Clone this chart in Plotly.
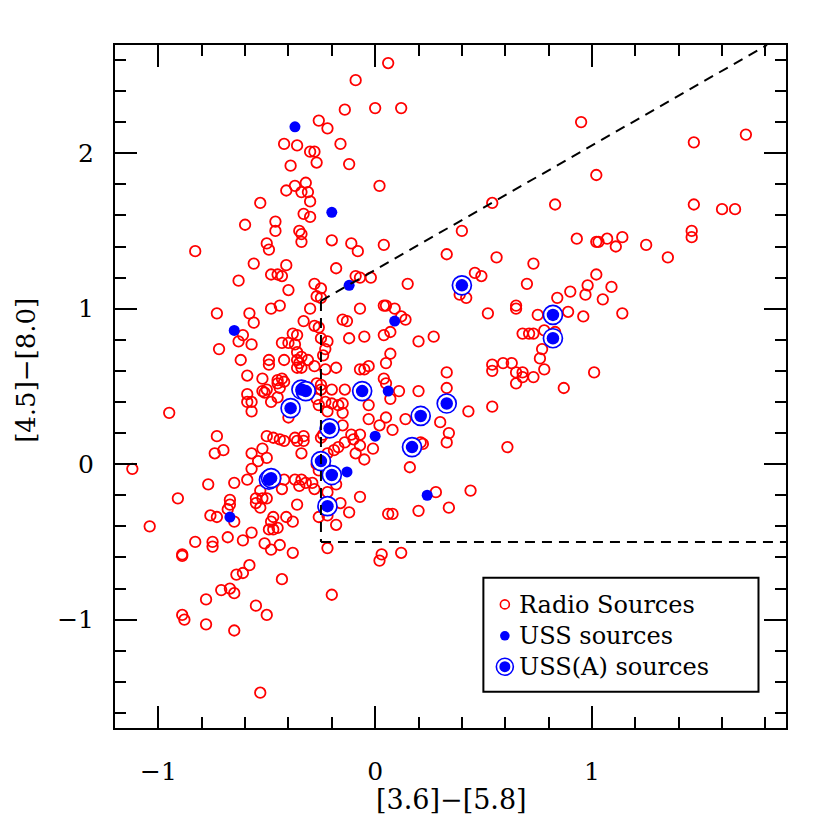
import plotly.graph_objects as go

# Radio sources (open red circles)
radio_x = [
    -0.14, -0.26, -0.22, -0.16, -0.42, -0.36, -0.30, -0.28, -0.27, -0.39,
    -0.12, -0.37, -0.32, -0.41, -0.34, -0.31, -0.30, -0.53, -0.33, -0.30,
    -0.60, -0.46, -0.46, -0.35, -0.34, -0.34, -0.20, -0.50, -0.49, -0.83,
    -0.56, -0.41, -0.18, 0.06, -0.09, 0.00, 0.12, 0.02, 0.54, 0.83,
    0.40, -0.11, -0.08, 0.04, 0.33, 0.56, 0.73, 0.95, 1.47, 1.71,
    1.02, 1.47, 1.60, 1.66, 0.93, 1.02, 1.03, 1.07, 1.11, 1.14,
    1.25, 1.46, 1.46, 1.35, 1.02, 0.90, 0.98, 0.97, 1.09, 1.05,
    0.89, 0.96, 1.14, 1.01, -0.09, -0.07, -0.02, 0.15, 0.46, 0.49,
    0.39, 0.42, 0.70, 0.84, 0.75, 0.65, 0.65, 0.52, -0.07, 0.04,
    0.05, 0.09, 0.12, 0.14, -0.15, -0.13, -0.12, -0.05, 0.04, 0.07,
    0.20, 0.27, 0.07, 0.05, -0.07, -0.05, -0.03, 0.33, 0.68, 0.71,
    0.73, 0.78, 0.83, 0.77, 0.76, 0.78, 0.73, 0.54, 0.54, 0.59,
    0.63, 0.65, 0.68, 0.68, 0.65, 0.87, 0.33, 0.43, 0.54, 0.05,
    0.04, 0.11, 0.07, 0.20, -0.14, -0.15, -0.03, -0.03, 0.05, 0.02,
    0.08, 0.14, -0.11, -0.07, -0.10, -0.14, -0.07, -0.01, -0.09, -0.05,
    0.30, 0.34, 0.33, 0.21, 0.22, 0.61, 0.16, 0.28, 0.44, -0.07,
    -0.12, 0.06, 0.08, 0.20, 0.34, 0.03, 0.02, 0.12, -0.48, -0.45,
    -0.43, -0.63, -0.40, -0.28, -0.25, -0.27, -0.25, -0.73, -0.58, -0.48,
    -0.44, -0.30, -0.56, -0.33, -0.28, -0.26, -0.61, -0.63, -0.57, -0.72,
    -0.38, -0.36, -0.43, -0.40, -0.37, -0.25, -0.22, -0.23, -0.24, -0.36,
    -0.34, -0.42, -0.36, -0.31, -0.35, -0.62, -0.49, -0.49, -0.36, -0.34,
    -0.28, -0.23, -0.18, -0.59, -0.52, -0.45, -0.43, -0.45, -0.42, -0.52,
    -0.50, -0.51, -0.44, -0.45, -0.27, -0.25, -0.25, -0.20, -0.40, -0.59,
    -0.59, -0.57, -0.57, -0.48, -0.27, -0.26, -0.23, -0.20, -0.22, -0.17,
    -0.15, -0.95, -0.25, -0.24, -0.15, -0.73, -0.74, -0.70, -0.50, -0.47,
    -0.44, -0.42, -0.37, -0.36, -0.33, -0.33, -0.57, -0.52, -0.54, -0.50,
    -0.57, -0.34, -0.22, -0.19, -0.17, -0.27, -0.26, -0.23, -1.12, -0.77,
    -0.65, -0.59, -0.48, -0.46, -0.42, -0.37, -0.34, -0.32, -0.35, -0.28,
    -0.29, -0.22, -0.18, -0.53, -0.43, -0.91, -0.67, -1.04, -0.76, -0.73,
    -0.67, -0.68, -0.65, -0.55, -0.52, -0.50, -0.55, -0.53, -0.36, -0.16,
    -0.26, -0.22, -0.18, -0.47, -0.48, -0.45, -0.47, -0.49, -0.41, -0.38,
    -0.57, -0.68, -0.61, -0.83, -0.75, -0.75, -0.51, -0.48, -0.44, -0.38,
    -0.22, -0.89, -0.89, -0.58, -0.61, -0.64, -0.43, -0.71, -0.67, -0.65,
    -0.78, -0.20, -0.55, -0.50, -0.89, -0.88, -0.78, -0.65, -0.53,
]
radio_y = [
    2.28, 2.21, 2.16, 2.06, 2.06, 2.05, 2.01, 2.01, 1.94, 1.92,
    1.93, 1.79, 1.81, 1.76, 1.75, 1.75, 1.69, 1.68, 1.61, 1.59,
    1.54, 1.56, 1.50, 1.50, 1.48, 1.43, 1.44, 1.42, 1.38, 1.37,
    1.29, 1.28, 1.26, 2.58, 2.47, 2.29, 2.29, 1.79, 1.68, 1.67,
    1.50, 1.42, 1.37, 1.41, 1.35, 1.33, 1.29, 2.20, 2.07, 2.12,
    1.86, 1.67, 1.64, 1.64, 1.45, 1.43, 1.43, 1.45, 1.40, 1.46,
    1.41, 1.50, 1.46, 1.33, 1.22, 1.11, 1.15, 1.09, 1.14, 1.06,
    0.98, 0.95, 0.97, 0.59, 1.21, 1.20, 1.20, 1.16, 1.23, 1.21,
    1.09, 1.07, 1.16, 1.07, 0.96, 1.02, 1.00, 0.97, 1.00, 1.02,
    1.02, 1.00, 0.95, 0.93, 0.93, 0.92, 0.81, 0.82, 0.83, 0.85,
    0.79, 0.82, 0.71, 0.65, 0.61, 0.61, 0.63, 0.59, 0.84, 0.84,
    0.84, 0.86, 0.85, 0.74, 0.68, 0.61, 0.56, 0.64, 0.60, 0.65,
    0.65, 0.59, 0.59, 0.56, 0.52, 0.49, 0.49, 0.34, 0.37, 0.52,
    0.55, 0.47, 0.42, 0.47, 0.48, 0.39, 0.38, 0.29, 0.30, 0.25,
    0.22, 0.29, 0.19, 0.19, 0.16, 0.14, 0.12, 0.10, 0.07, 0.03,
    0.27, 0.20, 0.14, 0.14, 0.13, 0.11, -0.02, -0.18, -0.17, -0.21,
    -0.31, -0.32, -0.32, -0.30, -0.28, -0.58, -0.62, -0.57, 1.22, 1.22,
    1.21, 1.18, 1.12, 1.16, 1.13, 1.08, 1.07, 0.97, 0.97, 1.00,
    1.02, 1.00, 0.91, 0.92, 0.89, 0.88, 0.83, 0.79, 0.77, 0.74,
    0.84, 0.83, 0.78, 0.78, 0.77, 0.81, 0.79, 0.74, 0.70, 0.72,
    0.69, 0.67, 0.67, 0.67, 0.65, 0.67, 0.67, 0.64, 0.62, 0.62,
    0.63, 0.61, 0.62, 0.57, 0.55, 0.54, 0.55, 0.52, 0.53, 0.47,
    0.48, 0.46, 0.49, 0.43, 0.52, 0.51, 0.48, 0.48, 0.30, 0.45,
    0.40, 0.40, 0.34, 0.40, 0.42, 0.38, 0.40, 0.39, 0.34, 0.38,
    0.33, 0.33, 0.17, 0.19, 0.25, 0.18, 0.07, 0.09, 0.18, 0.17,
    0.16, 0.15, 0.17, 0.15, 0.18, 0.15, 0.07, 0.10, 0.02, 0.04,
    -0.03, 0.07, 0.07, 0.09, 0.11, 0.00, -0.04, -0.02, -0.03, -0.13,
    -0.12, -0.10, -0.08, -0.09, -0.10, -0.10, -0.10, -0.12, -0.14, -0.16,
    -0.12, -0.18, -0.13, -0.17, -0.16, -0.22, -0.23, -0.40, -0.33, -0.34,
    -0.26, -0.29, -0.37, -0.22, -0.22, -0.22, -0.25, -0.28, -0.26, -0.25,
    -0.34, -0.33, -0.39, -0.34, -0.37, -0.41, -0.42, -0.42, -0.34, -0.37,
    -0.44, -0.47, -0.49, -0.50, -0.50, -0.53, -0.51, -0.55, -0.52, -0.57,
    -0.54, -0.58, -0.59, -0.65, -0.70, -0.71, -0.74, -0.81, -0.80, -0.83,
    -0.87, -0.84, -0.91, -0.97, -0.97, -1.00, -1.03, -1.07, -1.47,
]

# USS sources (filled blue)
uss_x = [-0.37, -0.20, -0.12, 0.09, -0.65, 0.06, 0.00, -0.13, 0.24, -0.67]
uss_y = [2.17, 1.62, 1.15, 0.92, 0.86, 0.47, 0.18, -0.05, -0.20, -0.34]

# USS(A) sources (filled blue with ring)
ussa_x = [0.40, 0.82, 0.82, -0.34, -0.32, -0.39, -0.06, 0.33,
          0.21, 0.17, -0.21, -0.25, -0.20, -0.49, -0.48, -0.22]
ussa_y = [1.15, 0.96, 0.81, 0.48, 0.47, 0.36, 0.47, 0.39,
          0.31, 0.11, 0.23, 0.02, -0.07, -0.10, -0.09, -0.27]

# selection wedge
x_cut = -0.25
y_cut = -0.5
wedge_slope = 0.8
wedge_icpt = 1.25

X_RANGE = [-1.2, 1.895]
Y_RANGE = [-1.697, 2.696]
FONT = "DejaVu Serif"

fig = go.Figure()

fig.add_trace(go.Scatter(
    x=radio_x, y=radio_y, mode="markers", name="Radio Sources",
    marker=dict(symbol="circle-open", size=10.5, color="#ff0000", line=dict(width=1.8)),
))
fig.add_trace(go.Scatter(
    x=uss_x, y=uss_y, mode="markers", name="USS sources",
    marker=dict(symbol="circle", size=11, color="#0000ff", line=dict(width=0)),
))
fig.add_trace(go.Scatter(
    x=ussa_x, y=ussa_y, mode="markers", name="ring", showlegend=False,
    marker=dict(symbol="circle", size=19, color="white", line=dict(width=1.7, color="#0000ff")),
))
fig.add_trace(go.Scatter(
    x=ussa_x, y=ussa_y, mode="markers", name="USS(A) sources",
    marker=dict(symbol="circle", size=12.5, color="#0000ff", line=dict(width=0)),
))

dash = "10px,7px"
y_top = Y_RANGE[1]
fig.add_shape(type="line", x0=x_cut, y0=wedge_slope * x_cut + wedge_icpt,
              x1=(y_top - wedge_icpt) / wedge_slope, y1=y_top,
              line=dict(color="black", width=2, dash=dash))
fig.add_shape(type="line", x0=x_cut, y0=wedge_slope * x_cut + wedge_icpt, x1=x_cut, y1=y_cut,
              line=dict(color="black", width=2, dash=dash))
fig.add_shape(type="line", x0=x_cut, y0=y_cut, x1=X_RANGE[1], y1=y_cut,
              line=dict(color="black", width=2, dash=dash))

# hand-made legend box
fig.add_shape(type="rect", xref="paper", yref="paper", x0=0.549, x1=0.959, y0=0.053, y1=0.220,
              line=dict(color="black", width=2), fillcolor="white", layer="above")

def legend_dot(yp, r, fill, stroke, width):
    fig.add_shape(type="circle", xref="paper", yref="paper", xsizemode="pixel", ysizemode="pixel",
                  xanchor=0.581, yanchor=yp, x0=-r, x1=r, y0=-r, y1=r,
                  fillcolor=fill, line=dict(color=stroke, width=width), layer="above")

legend_dot(0.181, 4.5, "white", "#ff0000", 1.6)
legend_dot(0.135, 4.8, "#0000ff", "#0000ff", 0)
legend_dot(0.0897, 8.5, "white", "#0000ff", 1.6)
legend_dot(0.0897, 5.5, "#0000ff", "#0000ff", 0)

for label, yp in [("Radio Sources", 0.180), ("USS sources", 0.135), ("USS(A) sources", 0.089)]:
    fig.add_annotation(text=label, xref="paper", yref="paper", x=0.599, y=yp,
                       xanchor="left", yanchor="middle", showarrow=False,
                       font=dict(family=FONT, size=24, color="black"))

fig.add_annotation(text="[3.6]−[5.8]", xref="paper", yref="paper", x=0.502, y=-0.105,
                   xanchor="center", yanchor="middle", showarrow=False,
                   font=dict(family=FONT, size=27, color="black"))
fig.add_annotation(text="[4.5]−[8.0]", xref="paper", yref="paper", x=-0.133, y=0.524,
                   xanchor="center", yanchor="middle", showarrow=False, textangle=-90,
                   font=dict(family=FONT, size=26, color="black"))

axis_common = dict(
    showgrid=False, zeroline=False, showline=True, linecolor="black", linewidth=2,
    mirror="allticks", ticks="inside", ticklen=22, tickwidth=2, tickcolor="black",
    tick0=0, dtick=1,
    minor=dict(ticks="inside", dtick=0.2, ticklen=11, tickwidth=2, tickcolor="black"),
    tickfont=dict(family=FONT, size=25, color="black"),
)

fig.update_xaxes(range=X_RANGE, ticklabelstandoff=20, **axis_common)
fig.update_yaxes(range=Y_RANGE, ticklabelstandoff=14, **axis_common)

# page body adds ~8px offset, so shift the plot area up/left by that much
fig.update_layout(
    width=830, height=830,
    margin=dict(l=107, r=52, t=37, b=110),
    paper_bgcolor="white", plot_bgcolor="white",
    showlegend=False,
)

fig.write_html("out.html")
